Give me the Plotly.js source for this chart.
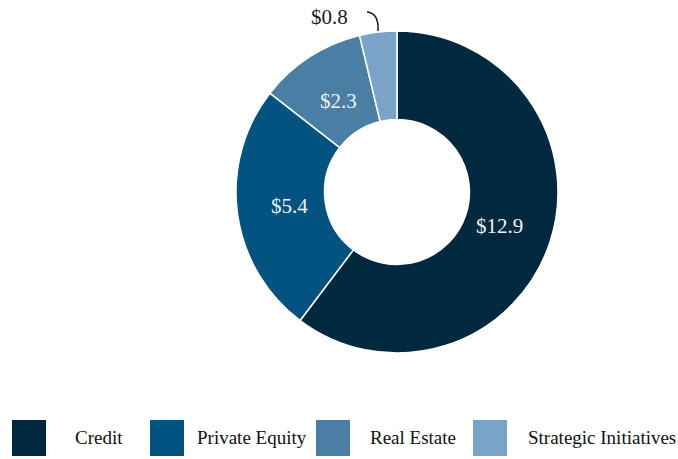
<!DOCTYPE html>
<html>
<head>
<meta charset="utf-8">
<script src="https://cdn.plot.ly/plotly-3.0.1.min.js"></script>
<style>html,body{margin:0;padding:0;background:#fff;}#chart{width:678px;height:459px;}</style>
</head>
<body>
<div id="chart"></div>
<script>
const categories = ['Credit', 'Private Equity', 'Real Estate', 'Strategic Initiatives'];
const values = [12.9, 5.4, 2.3, 0.8];
const colors = ['#00283f', '#02537f', '#4a7ea4', '#79a3c7'];

const W = 678, H = 459;
const px = x => x / W;
const py = y => 1 - y / H;
const SERIF = 'Liberation Serif, Times New Roman, serif';

const labelText = values.map(v => '$' + v.toFixed(1));

// donut geometry (pixels)
const CX = 397, CY = 192, R = 161, LABEL_R = 108;

const trace = {
  type: 'pie',
  labels: categories,
  values: values,
  textinfo: 'none',
  sort: false,
  direction: 'clockwise',
  rotation: 0,
  hole: 0.45,
  marker: { colors: colors, line: { color: '#ffffff', width: 1.5 } },
  domain: { x: [px(CX - R), px(CX + R)], y: [py(CY + R), py(CY - R)] },
  showlegend: false,
  hoverinfo: 'label+value'
};

const shapes = [];
const annotations = [];

// slice labels placed at the mid-angle of each slice
const total = values.reduce((a, b) => a + b, 0);
let cum = 0;
values.forEach((v, i) => {
  const mid = (cum + v / 2) / total * 2 * Math.PI;
  cum += v;
  if (i === 3) return;
  const x = CX + LABEL_R * Math.sin(mid);
  const y = CY - LABEL_R * Math.cos(mid);
  annotations.push({
    xref: 'paper', yref: 'paper', x: px(x), y: py(y),
    xanchor: 'center', yanchor: 'middle', showarrow: false, text: labelText[i],
    font: { family: SERIF, size: 21, color: '#f2f2f2' }
  });
});

// legend
const legendSwatchX = [12, 150, 316, 473];
const legendTextX = [73, 195, 368, 526];
categories.forEach((c, i) => {
  shapes.push({
    type: 'rect', xref: 'paper', yref: 'paper',
    x0: px(legendSwatchX[i]), x1: px(legendSwatchX[i] + 34),
    y0: py(456), y1: py(420),
    fillcolor: colors[i], line: { width: 0 }
  });
  annotations.push({
    xref: 'paper', yref: 'paper', x: px(legendTextX[i]), y: py(437),
    xanchor: 'left', yanchor: 'middle', showarrow: false, text: c,
    font: { family: SERIF, size: 19, color: '#111' }
  });
});

// outside label for the small slice
annotations.push({
  xref: 'paper', yref: 'paper', x: px(329), y: py(17),
  xanchor: 'center', yanchor: 'middle', showarrow: false, text: labelText[3],
  font: { family: SERIF, size: 21, color: '#1a1a1a' }
});
shapes.push({
  type: 'path', xref: 'paper', yref: 'paper',
  path: `M ${px(367)} ${py(12)} Q ${px(379)} ${py(13)} ${px(378)} ${py(31)}`,
  line: { color: '#1a1a1a', width: 1.5 }
});

const layout = {
  width: W, height: H,
  margin: { l: 0, r: 0, t: 0, b: 0 },
  paper_bgcolor: '#ffffff',
  showlegend: false,
  shapes: shapes,
  annotations: annotations
};

Plotly.newPlot('chart', [trace], layout, { displayModeBar: false, staticPlot: true });
</script>
</body>
</html>
